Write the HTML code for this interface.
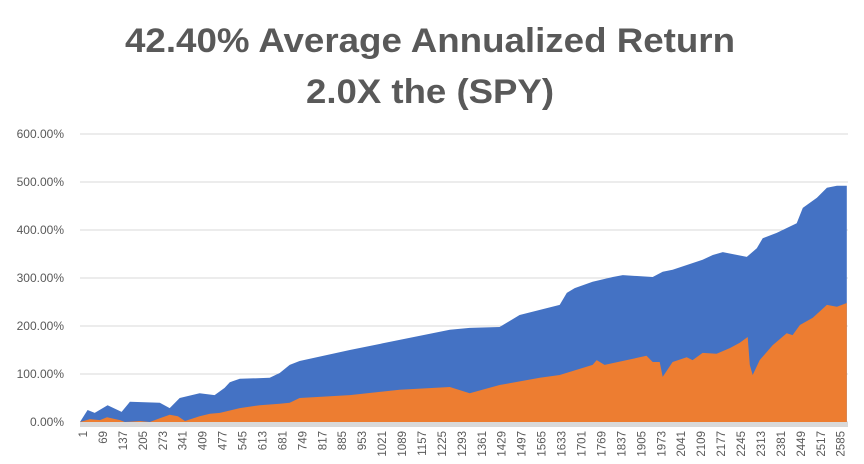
<!DOCTYPE html>
<html><head><meta charset="utf-8"><style>
html,body{margin:0;padding:0;background:#fff;}
svg{display:block;font-family:"Liberation Sans",sans-serif;}
</style></head><body>
<svg id="chart" width="864" height="464" viewBox="0 0 864 464">
<text x="430" y="52" text-anchor="middle" font-size="34" font-weight="bold" fill="#595959" textLength="610" lengthAdjust="spacingAndGlyphs">42.40% Average Annualized Return</text>
<text x="430" y="103" text-anchor="middle" font-size="34" font-weight="bold" fill="#595959" textLength="248" lengthAdjust="spacingAndGlyphs">2.0X the (SPY)</text>
<g id="grid"></g><g id="areas"></g><g id="xaxis"></g><g id="yaxis"></g>
</svg>
<script>
const yTicks=[0,100,200,300,400,500,600];
const xTickStart=1, xTickStep=68, xTickCount=39;
const strategyDays=[1,27,51,95,143,171,273,307,341,409,460,494,512,546,648,682,716,750,921,1091,1262,1330,1432,1500,1637,1661,1688,1749,1818,1852,1954,1988,2022,2124,2159,2193,2275,2309,2329,2377,2445,2466,2514,2548,2582,2616];
const strategyValues=[0,25,19,35,21,42,40,29,50,60,56,71,83,90,92,102,119,127,150,171,192,196,198,223,244,269,279,292,302,306,302,313,317,338,348,354,344,362,383,394,414,446,467,488,492,492];
const spyDays=[1,35,69,93,137,154,205,239,273,307,335,359,409,444,478,546,614,682,716,750,921,1091,1262,1330,1432,1569,1637,1749,1763,1790,1865,1933,1954,1978,1988,2022,2070,2090,2124,2172,2217,2251,2278,2285,2295,2319,2363,2411,2431,2456,2500,2548,2582,2616];
const spyValues=[0,6,4,10,4,0,2,0,8,15,12,2,12,17,19,29,35,38,40,50,56,67,73,60,77,92,98,119,129,119,129,138,125,125,94,125,135,129,144,142,154,165,177,119,98,129,160,185,181,202,217,244,240,248];
const N=2620, X0=80, X1=848, Y0=422, PX=0.48;
const xs=d=>X0+(d-1)/(N-1)*(X1-X0);
const ys=v=>Y0-v*PX;
const NS="http://www.w3.org/2000/svg";
function mk(tag,attrs,parent){const e=document.createElementNS(NS,tag);for(const k in attrs)e.setAttribute(k,attrs[k]);parent.appendChild(e);return e;}
const grid=document.getElementById('grid'),yaxis=document.getElementById('yaxis'),xaxis=document.getElementById('xaxis'),areas=document.getElementById('areas');
yTicks.forEach(t=>{
  const l=mk('line',{x1:X0,x2:X1,y1:ys(t),y2:ys(t),stroke:'#d9d9d9','stroke-width':1},grid);
  
  
  const tx=mk('text',{x:64,y:ys(t)+4,'text-anchor':'end','font-size':12,fill:'#595959'},yaxis);
  tx.textContent=t.toFixed(2)+'%';
  
  
});
function area(days,vals,color,name){
  let d='M'+xs(days[0])+','+Y0;
  days.forEach((dd,i)=>{d+=' L'+xs(dd).toFixed(1)+','+ys(vals[i]).toFixed(1);});
  d+=' L'+xs(days[days.length-1]).toFixed(1)+','+Y0+' Z';
  const p=mk('path',{d:d,fill:color},areas);
  
  
}
area(strategyDays,strategyValues,'#4472c4','strategy-area');
area(spyDays,spyValues,'#ed7d31','spy-area');
const ax=mk('rect',{x:X0,y:Y0,width:X1-X0,height:5,fill:'#d9d9d9'},xaxis);


for(let i=0;i<xTickCount;i++){
  const v=xTickStart+i*xTickStep;
  const x=xs(v)+7;
  const t=mk('text',{x:x,y:431,'text-anchor':'end','font-size':11.5,fill:'#595959',transform:'rotate(-90 '+x+' 431)'},xaxis);
  t.textContent=v;
  
  
}
</script>
</body></html>
